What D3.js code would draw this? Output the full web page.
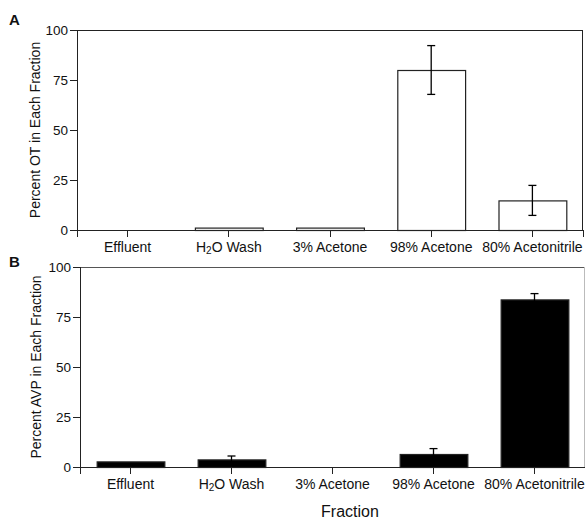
<!DOCTYPE html>
<html>
  <head>
    <meta charset="utf-8">
    <style>
      body { margin: 0; background: #fff; }
      svg { font-family: "Liberation Sans", Arial, sans-serif; }
      .axis path, .axis line { stroke: #222; stroke-width: 1; shape-rendering: crispEdges; }
      .axis text { fill: #111; }
    </style>
  </head>
  <body>
    <div id="main"></div>
    <script src="https://d3js.org/d3.v7.min.js"></script>
    <script>
    // data
    var fractions = ["Effluent", "H2O Wash", "3% Acetone", "98% Acetone", "80% Acetonitrile"];
    var otMean = [0, 1.2, 1.2, 80, 14.8];
    var otErr = [0, 0, 0, 12.2, 7.5];
    var avpMean = [2.8, 3.8, 0, 6.5, 83.8];
    var avpErr = [0, 1.7, 0, 2.7, 2.9];
    var yTicks = [0, 25, 50, 75, 100];

    var svg = d3.select("#main").append("svg")
        .attr("width", 585)
        .attr("height", 521);

    function drawPanel(opt) {
      var x = d3.scaleBand().domain(fractions).range([opt.left, opt.right]).paddingInner(0.33).paddingOuter(0.165);
      var y = d3.scaleLinear().domain([0, 100]).range([opt.bottom, opt.top]);
      var g = svg.append("g");

      // frame top + right
      g.append("line").attr("x1", opt.left).attr("x2", opt.right).attr("y1", opt.top + 0.5).attr("y2", opt.top + 0.5)
        .attr("stroke", opt.frameTop).attr("stroke-width", 1);
      g.append("line").attr("x1", opt.right - 0.5).attr("x2", opt.right - 0.5).attr("y1", opt.top).attr("y2", opt.bottom)
        .attr("stroke", opt.frameRight).attr("stroke-width", 1);

      var data = fractions.map(function(f, i) { return {name: f, mean: opt.mean[i], err: opt.err[i]}; });

      // bars
      g.selectAll("rect.bar").data(data.filter(function(d) { return d.mean > 0; }))
        .enter().append("rect")
          .attr("class", "bar")
          .attr("x", function(d) { return x(d.name) + 0.5; })
          .attr("width", x.bandwidth())
          .attr("y", function(d) { return y(d.mean) + 0.5; })
          .attr("height", function(d) { return y(0) - y(d.mean); })
          .attr("fill", opt.fill)
          .attr("stroke", "#222")
          .attr("stroke-width", 1.2);

      // error bars
      var eb = g.selectAll("g.err").data(data.filter(function(d) { return d.err > 0; }))
        .enter().append("g").attr("class", "err")
          .attr("stroke", "#000").attr("stroke-width", 1.3);
      eb.append("line")
        .attr("x1", function(d) { return x(d.name) + x.bandwidth() / 2; })
        .attr("x2", function(d) { return x(d.name) + x.bandwidth() / 2; })
        .attr("y1", function(d) { return y(d.mean + d.err); })
        .attr("y2", function(d) { return y(d.mean - d.err); });
      eb.selectAll("line.cap").data(function(d) { return [
          {name: d.name, v: d.mean + d.err}, {name: d.name, v: d.mean - d.err}]; })
        .enter().append("line").attr("class", "cap")
          .attr("x1", function(d) { return x(d.name) + x.bandwidth() / 2 - 4; })
          .attr("x2", function(d) { return x(d.name) + x.bandwidth() / 2 + 4; })
          .attr("y1", function(d) { return y(d.v); })
          .attr("y2", function(d) { return y(d.v); });

      // axes
      var yAxis = g.append("g").attr("class", "axis")
          .attr("transform", "translate(" + opt.left + ",0)")
          .call(d3.axisLeft(y).tickValues(yTicks).tickSizeOuter(0).tickSize(7).tickPadding(2));
      yAxis.selectAll("text").style("font-size", "13.5px");

      var xAxis = g.append("g").attr("class", "axis")
          .attr("transform", "translate(0," + opt.bottom + ")")
          .call(d3.axisBottom(x).tickSizeOuter(0).tickSize(7).tickPadding(5));
      xAxis.selectAll("text").style("font-size", "14px")
        .each(function(d) {
          if (d === "H2O Wash") {
            var t = d3.select(this).text("");
            t.append("tspan").text("H");
            t.append("tspan").text("2").style("font-size", "10px").attr("dy", "2");
            t.append("tspan").text("O Wash").attr("dy", "-2");
          }
        });

      // y label
      svg.append("text")
          .attr("transform", "translate(" + opt.ylabelX + "," + ((opt.top + opt.bottom) / 2) + ") rotate(-90)")
          .attr("text-anchor", "middle")
          .style("font-size", "14px")
          .attr("fill", "#111")
          .text(opt.ylabel);

      // panel letter
      svg.append("text")
          .attr("x", 9).attr("y", opt.letterY)
          .style("font-size", "15px").style("font-weight", "bold")
          .attr("fill", "#111")
          .text(opt.letter);
    }

    drawPanel({left: 77, right: 583, top: 30, bottom: 230, mean: otMean, err: otErr, fill: "#fff",
      ylabel: "Percent OT in Each Fraction", ylabelX: 40, letter: "A", letterY: 25,
      frameTop: "#222", frameRight: "#222"});
    drawPanel({left: 80, right: 585, top: 267, bottom: 467, mean: avpMean, err: avpErr, fill: "#000",
      ylabel: "Percent AVP in Each Fraction", ylabelX: 41, letter: "B", letterY: 267,
      frameTop: "#555", frameRight: "#bbb"});

    svg.append("text")
        .attr("x", 350).attr("y", 517)
        .attr("text-anchor", "middle")
        .style("font-size", "16px")
        .attr("fill", "#111")
        .text("Fraction");
    </script>
  </body>
</html>
